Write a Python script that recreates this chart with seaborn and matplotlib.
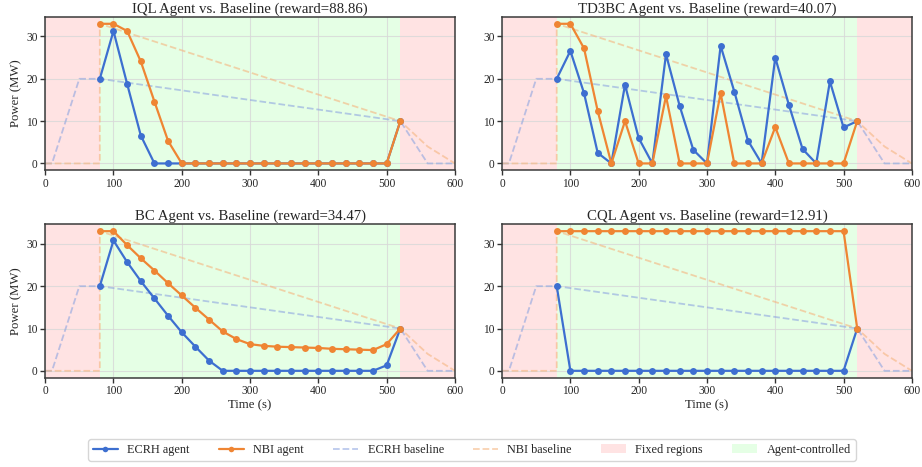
import numpy as np
import pandas as pd
import matplotlib
matplotlib.use('Agg')
import matplotlib.pyplot as plt
import seaborn as sns
from matplotlib.lines import Line2D
from matplotlib.patches import Patch

sns.set_theme(style='whitegrid')
plt.rcParams['font.family'] = ['Liberation Serif', 'DejaVu Serif']
plt.rcParams['axes.edgecolor'] = '#444444'
plt.rcParams['grid.color'] = '#d8d8d8'

# agent decision times
agent_t = [80, 100, 120, 140, 160, 180, 200, 220, 240, 260, 280, 300,
           320, 340, 360, 380, 400, 420, 440, 460, 480, 500, 520]

# baseline schedules
ecrh_base_t = [0, 10, 50, 80, 520, 560, 600]
ecrh_base_p = [0, 0, 20, 20, 10, 0, 0]
nbi_base_t = [0, 80, 80, 520, 560, 600]
nbi_base_p = [0, 0, 33, 10, 4, 0]

titles = ['IQL Agent vs. Baseline (reward=88.86)',
          'TD3BC Agent vs. Baseline (reward=40.07)',
          'BC Agent vs. Baseline (reward=34.47)',
          'CQL Agent vs. Baseline (reward=12.91)']

iql_ecrh = [20, 31.3, 18.8, 6.6, 0, 0, 0, 0, 0, 0, 0, 0, 0, 0, 0, 0, 0, 0, 0, 0, 0, 0, 10]
iql_nbi = [33, 33, 31.3, 24.1, 14.6, 5.3, 0, 0, 0, 0, 0, 0, 0, 0, 0, 0, 0, 0, 0, 0, 0, 0, 10]

td3bc_ecrh = [20, 26.6, 16.6, 2.5, 0, 18.6, 6.0, 0, 25.8, 13.6, 3.2, 0,
              27.8, 17.0, 5.4, 0, 25.0, 13.8, 3.4, 0, 19.4, 8.5, 10]
td3bc_nbi = [33, 33, 27.2, 12.4, 0, 10, 0, 0, 15.9, 0, 0, 0,
             16.6, 0, 0, 0, 8.6, 0, 0, 0, 0, 0, 10]

bc_ecrh = [20, 30.8, 25.7, 21.2, 17.1, 13.0, 9.1, 5.7, 2.4, 0, 0, 0,
           0, 0, 0, 0, 0, 0, 0, 0, 0, 1.3, 10]
bc_nbi = [33, 33, 29.7, 26.6, 23.7, 20.7, 17.8, 14.9, 12.1, 9.3, 7.5, 6.3,
          5.9, 5.7, 5.6, 5.5, 5.4, 5.2, 5.1, 5.0, 4.9, 6.3, 10]

cql_ecrh = [20, 0, 0, 0, 0, 0, 0, 0, 0, 0, 0, 0, 0, 0, 0, 0, 0, 0, 0, 0, 0, 0, 10]
cql_nbi = [33, 33, 33, 33, 33, 33, 33, 33, 33, 33, 33, 33,
           33, 33, 33, 33, 33, 33, 33, 33, 33, 33, 10]

ecrh_all = [iql_ecrh, td3bc_ecrh, bc_ecrh, cql_ecrh]
nbi_all = [iql_nbi, td3bc_nbi, bc_nbi, cql_nbi]

BLUE = '#3d6fd0'
ORANGE = '#ef8533'

fig, axes = plt.subplots(2, 2, figsize=(9.22, 4.67), dpi=100)
fig.subplots_adjust(left=0.049, right=0.989, top=0.964, bottom=0.191,
                    wspace=0.115, hspace=0.35)

for i, ax in enumerate(axes.flat):
    ax.axvspan(0, 80, color='#ffcccc', alpha=0.55, lw=0, zorder=0)
    ax.axvspan(520, 600, color='#ffcccc', alpha=0.55, lw=0, zorder=0)
    ax.axvspan(80, 520, color='#ccffcc', alpha=0.5, lw=0, zorder=0)

    sns.lineplot(x=ecrh_base_t, y=ecrh_base_p, ax=ax, estimator=None, sort=False,
                 color='#8ea5e0', alpha=0.6, linestyle='--', lw=1.3)
    sns.lineplot(x=nbi_base_t, y=nbi_base_p, ax=ax, estimator=None, sort=False,
                 color='#f5b57f', alpha=0.6, linestyle='--', lw=1.3)
    sns.lineplot(x=agent_t, y=ecrh_all[i], ax=ax, estimator=None, sort=False,
                 color=BLUE, marker='o', markersize=5, markeredgewidth=0, lw=1.6)
    sns.lineplot(x=agent_t, y=nbi_all[i], ax=ax, estimator=None, sort=False,
                 color=ORANGE, marker='o', markersize=5, markeredgewidth=0, lw=1.6)

    ax.set_xlim(0, 600)
    ax.set_ylim(-1.65, 34.65)
    ax.set_xticks([0, 100, 200, 300, 400, 500, 600])
    ax.set_yticks([0, 10, 20, 30])
    ax.tick_params(labelsize=8.3, pad=2, bottom=True, left=True, length=3.5,
                   width=1, color='#333333')
    ax.set_title(titles[i], fontsize=10.7, pad=3)
    ax.grid(True, alpha=0.8, lw=0.8)
    for s in ax.spines.values():
        s.set_linewidth(1.1)
        s.set_color('#3a3a3a')
    ax.set_xlabel('Time (s)' if i >= 2 else '', fontsize=9.2, labelpad=1)
    ax.set_ylabel('Power (MW)' if i % 2 == 0 else '', fontsize=9.2, labelpad=3)

handles = [
    Line2D([], [], color=BLUE, marker='o', markersize=4, lw=1.6, markeredgewidth=0),
    Line2D([], [], color=ORANGE, marker='o', markersize=4, lw=1.6, markeredgewidth=0),
    Line2D([], [], color='#8ea5e0', alpha=0.6, linestyle='--', lw=1.3),
    Line2D([], [], color='#f5b57f', alpha=0.6, linestyle='--', lw=1.3),
    Patch(facecolor='#ffcccc', alpha=0.55, lw=0),
    Patch(facecolor='#ccffcc', alpha=0.5, lw=0),
]
labels = ['ECRH agent', 'NBI agent', 'ECRH baseline', 'NBI baseline',
          'Fixed regions', 'Agent-controlled']
fig.legend(handles, labels, loc='lower center', bbox_to_anchor=(0.512, 0.0),
           ncol=6, fontsize=8.8, frameon=True, edgecolor='#cccccc',
           columnspacing=2.4, handlelength=2.0)

plt.savefig('out.png', dpi=100)
